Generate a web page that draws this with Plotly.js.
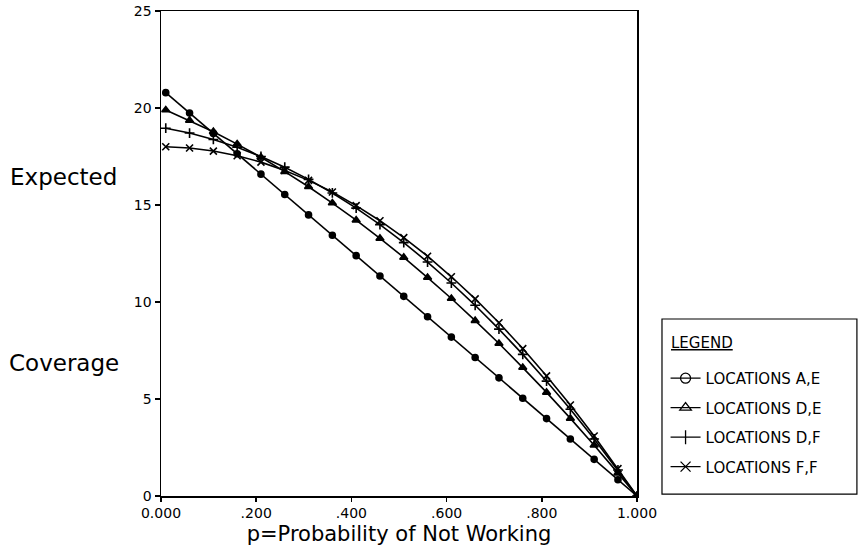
<!DOCTYPE html>
<html>
<head>
<meta charset="utf-8">
<script src="https://cdn.plot.ly/plotly-3.0.1.min.js"></script>
<style>html,body{margin:0;padding:0;background:#fff;}#chart{width:858px;height:553px;}</style>
</head>
<body>
<div id="chart"></div>
<script>
// p = probability of not working
const p = [0.01,0.06,0.11,0.16,0.21,0.26,0.31,0.36,0.41,0.46,0.51,0.56,0.61,0.66,0.71,0.76,0.81,0.86,0.91,0.96,1.00];
const locAE = [20.79,19.74,18.69,17.64,16.59,15.54,14.49,13.44,12.39,11.34,10.29,9.24,8.19,7.14,6.09,5.04,3.99,2.94,1.89,0.84,0];
const locDE = [19.90,19.36,18.78,18.14,17.46,16.72,15.94,15.10,14.22,13.28,12.30,11.26,10.18,9.04,7.86,6.62,5.34,4.00,2.62,1.18,0];
const locDF = [18.96,18.71,18.38,17.98,17.50,16.95,16.32,15.62,14.84,13.99,13.06,12.06,10.98,9.83,8.60,7.30,5.92,4.47,2.94,1.34,0];
const locFF = [18.00,17.94,17.78,17.54,17.21,16.78,16.27,15.67,14.97,14.19,13.32,12.36,11.30,10.16,8.93,7.60,6.19,4.69,3.09,1.41,0];
const seriesNames = ['LOCATIONS A,E','LOCATIONS D,E','LOCATIONS D,F','LOCATIONS F,F'];
const xTickVals = [0,0.2,0.4,0.6,0.8,1.0];
const xTickText = ['0.000','.200','.400','.600','.800','1.000'];
const yTickVals = [0,5,10,15,20,25];

const seriesY = [locAE, locDE, locDF, locFF];
const plotSymbols = ['circle','triangle-up','cross-thin-open','x-thin-open'];
const plotSizes = [6,7,7,7];
const legendSymbols = ['circle-open','triangle-up-open','line-ns-open','x-thin-open'];
const FONT = 'DejaVu Sans, Arial, sans-serif';

const traces = [];
seriesY.forEach((ys, i) => {
  traces.push({
    x: p, y: ys, type: 'scatter', mode: 'lines+markers', showlegend: false,
    line: {color: '#000', width: 1.6},
    marker: {symbol: plotSymbols[i], size: plotSizes[i], color: '#000', line: {color: '#000', width: 1.6}},
    hoverinfo: 'skip'
  });
});
seriesY.forEach((ys, i) => {
  traces.push({
    x: [null], y: [null], type: 'scatter', mode: 'lines+markers', name: seriesNames[i],
    legendgroup: 'g' + i, showlegend: true,
    line: {color: '#000', width: 1.3},
    marker: {symbol: legendSymbols[i], size: 10, color: '#000', line: {color: '#000', width: 1.3}}
  });
});

const layout = {
  width: 858, height: 553,
  margin: {l: 161, r: 221, t: 11, b: 57},
  paper_bgcolor: '#fff', plot_bgcolor: '#fff',
  font: {family: FONT, color: '#000', size: 14},
  showlegend: true,
  xaxis: {
    range: [0, 1], tickvals: xTickVals, ticktext: xTickText,
    showline: true, mirror: true, linecolor: '#000', linewidth: 1.5,
    ticks: 'outside', ticklen: 4, tickwidth: 1.5, tickcolor: '#000',
    showgrid: false, zeroline: false,
    tickfont: {family: FONT, size: 14, color: '#000'},
    title: {text: 'p=Probability of Not Working', font: {family: FONT, size: 21, color: '#000'}, standoff: 6}
  },
  yaxis: {
    range: [0, 25], tickvals: yTickVals,
    showline: true, mirror: true, linecolor: '#000', linewidth: 1.5,
    ticks: 'outside', ticklen: 5, tickwidth: 1.5, tickcolor: '#000',
    showgrid: false, zeroline: false,
    tickfont: {family: FONT, size: 14, color: '#000'}
  },
  legend: {
    x: 1.06, y: 0.027, xanchor: 'left', yanchor: 'bottom',
    bgcolor: 'rgba(0,0,0,0)', borderwidth: 0,
    font: {family: FONT, size: 15, color: '#000'},
    traceorder: 'grouped', tracegroupgap: 7, itemwidth: 30
  },
  shapes: [
    {type: 'rect', xref: 'paper', yref: 'paper', x0: 1.0525, x1: 1.462, y0: 0.004, y1: 0.365,
     line: {color: '#000', width: 1.2}, fillcolor: 'rgba(0,0,0,0)', layer: 'above'}
  ],
  annotations: [
    {text: 'Expected', xref: 'paper', yref: 'paper', x: -0.204, y: 0.658, xanchor: 'center', yanchor: 'middle', showarrow: false, font: {family: FONT, size: 23, color: '#000'}},
    {text: 'Coverage', xref: 'paper', yref: 'paper', x: -0.204, y: 0.274, xanchor: 'center', yanchor: 'middle', showarrow: false, font: {family: FONT, size: 23, color: '#000'}},
    {text: '<u>LEGEND</u>', xref: 'paper', yref: 'paper', x: 1.067, y: 0.315, xanchor: 'left', yanchor: 'middle', showarrow: false, font: {family: FONT, size: 15, color: '#000'}}
  ]
};

Plotly.newPlot('chart', traces, layout, {displayModeBar: false, staticPlot: true});
</script>
</body>
</html>
